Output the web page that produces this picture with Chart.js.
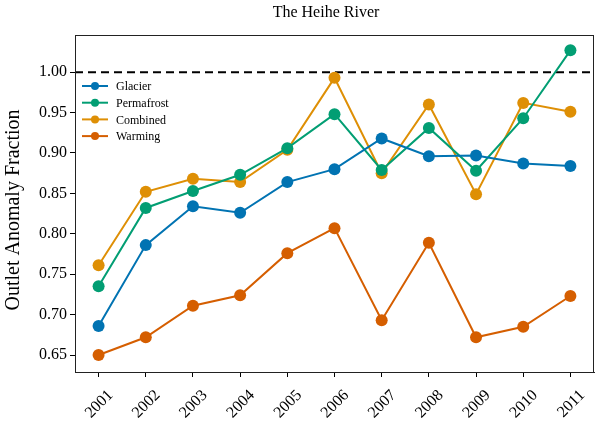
<!DOCTYPE html>
<html>
<head>
<meta charset="utf-8">
<script src="https://cdn.jsdelivr.net/npm/chart.js@4/dist/chart.umd.min.js"></script>
<style>
  body { margin: 0; background: #fff; }
  #wrap { width: 600px; height: 423px; }
</style>
</head>
<body>
<div id="wrap"><canvas id="chart"></canvas></div>
<script>
// data
const years = ['2001', '2002', '2003', '2004', '2005', '2006', '2007', '2008', '2009', '2010', '2011'];
const glacier    = [0.686, 0.786, 0.834, 0.826, 0.864, 0.880, 0.918, 0.896, 0.897, 0.887, 0.884];
const permafrost = [0.735, 0.832, 0.853, 0.873, 0.906, 0.948, 0.879, 0.931, 0.878, 0.943, 1.027];
const combined   = [0.761, 0.852, 0.868, 0.864, 0.904, 0.993, 0.875, 0.960, 0.849, 0.962, 0.951];
const warming    = [0.650, 0.672, 0.711, 0.724, 0.776, 0.807, 0.693, 0.789, 0.672, 0.685, 0.723];
const yTicks = [0.65, 0.70, 0.75, 0.80, 0.85, 0.90, 0.95, 1.00];
const refLine = 1.0;

const serif = "'Liberation Serif', 'DejaVu Serif', serif";

function series(label, data, color) {
    return {
        label: label,
        data: data,
        borderColor: color,
        backgroundColor: color,
        borderWidth: 2,
        pointRadius: 6,
        pointHoverRadius: 6,
        pointBorderWidth: 0,
        tension: 0
    };
}

// dashed line, frame, titles and in-plot legend
const extras = {
    id: 'extras',
    beforeDatasetsDraw(chart) {
        const ctx = chart.ctx;
        const a = chart.chartArea;
        const y = chart.scales.y.getPixelForValue(refLine);
        ctx.save();
        ctx.strokeStyle = '#000';
        ctx.lineWidth = 2;
        ctx.setLineDash([8, 5]);
        ctx.beginPath();
        ctx.moveTo(a.left, y);
        ctx.lineTo(a.right, y);
        ctx.stroke();
        ctx.restore();
    },
    afterDraw(chart) {
        const ctx = chart.ctx;
        const a = chart.chartArea;
        ctx.save();
        ctx.strokeStyle = '#222';
        ctx.lineWidth = 1;
        ctx.strokeRect(a.left + 0.5, a.top + 0.5, a.right - a.left - 1, a.bottom - a.top);

        ctx.fillStyle = '#000';
        ctx.font = '16px ' + serif;
        ctx.textAlign = 'center';
        ctx.textBaseline = 'middle';
        ctx.fillText('The Heihe River', 326, 13);

        // y axis title
        ctx.save();
        ctx.translate(14, 210);
        ctx.rotate(-Math.PI / 2);
        ctx.font = '20px ' + serif;
        ctx.fillText('Outlet Anomaly Fraction', 0, 0);
        ctx.restore();

        ctx.font = '12px ' + serif;
        ctx.textAlign = 'left';
        chart.data.datasets.forEach((ds, i) => {
            const ly = a.top + 51 + i * 16.7;
            const lx = a.left + 7;
            ctx.strokeStyle = ds.borderColor;
            ctx.lineWidth = 2;
            ctx.beginPath();
            ctx.moveTo(lx, ly);
            ctx.lineTo(lx + 26, ly);
            ctx.stroke();
            ctx.fillStyle = ds.borderColor;
            ctx.beginPath();
            ctx.arc(lx + 13, ly, 4, 0, Math.PI * 2);
            ctx.fill();
            ctx.fillStyle = '#000';
            ctx.fillText(ds.label, lx + 34, ly + 1);
        });
        ctx.restore();
    }
};

new Chart(document.getElementById('chart'), {
    type: 'line',
    data: {
        labels: years,
        datasets: [
            series('Glacier', glacier, '#0173b2'),
            series('Permafrost', permafrost, '#029e73'),
            series('Combined', combined, '#de8f05'),
            series('Warming', warming, '#d55e00')
        ]
    },
    options: {
        responsive: true,
        maintainAspectRatio: false,
        animation: false,
        layout: { padding: { left: 0, right: 6, top: 35, bottom: 0 } },
        plugins: {
            legend: { display: false },
            tooltip: { enabled: false }
        },
        scales: {
            x: {
                offset: true,
                afterFit: scale => { scale.height = 51; },
                grid: { display: true, drawOnChartArea: false, drawTicks: true, tickLength: 5, color: '#000', offset: false },
                border: { display: true, color: '#222' },
                ticks: {
                    color: '#000',
                    font: { family: serif, size: 16 },
                    minRotation: 45,
                    maxRotation: 45,
                    padding: 9,
                    labelOffset: 12
                }
            },
            y: {
                min: 0.629,
                max: 1.046,
                afterFit: scale => { scale.width = 75; },
                afterBuildTicks: scale => { scale.ticks = yTicks.map(v => ({ value: v })); },
                grid: { display: true, drawOnChartArea: false, drawTicks: true, tickLength: 5, color: '#000' },
                border: { display: true, color: '#222' },
                ticks: {
                    color: '#000',
                    font: { family: serif, size: 16 },
                    padding: 3,
                    callback: v => Number(v).toFixed(2)
                }
            }
        }
    },
    plugins: [extras]
});
</script>
</body>
</html>
